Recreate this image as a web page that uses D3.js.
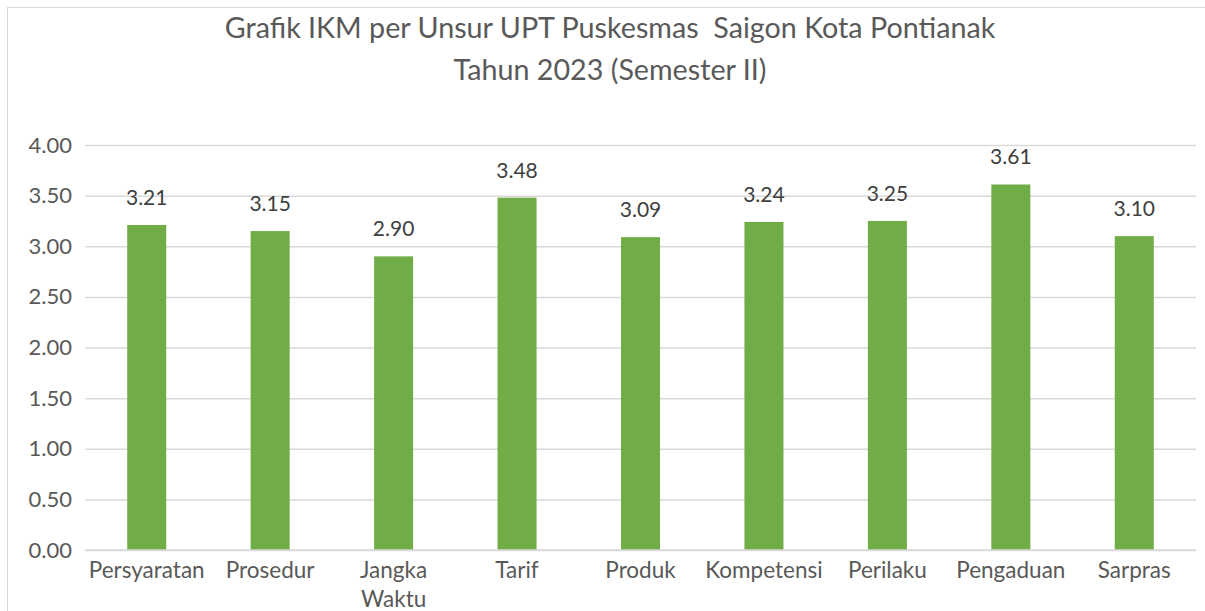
<!DOCTYPE html>
<html>
<head>
<meta charset="utf-8">
<script src="https://cdn.jsdelivr.net/npm/d3@7"></script>
<style>
  body { margin: 0; background: #fff; }
  svg text { font-family: Lato, "Open Sans", sans-serif; }
</style>
</head>
<body>
<svg id="chart" width="1205" height="611"></svg>
<script>
const categories = ["Persyaratan", "Prosedur", "Jangka Waktu", "Tarif", "Produk", "Kompetensi", "Perilaku", "Pengaduan", "Sarpras"];
const values = [3.21, 3.15, 2.90, 3.48, 3.09, 3.24, 3.25, 3.61, 3.10];
const yTicks = [0, 0.5, 1, 1.5, 2, 2.5, 3, 3.5, 4];
const titleLines = ["Grafik IKM per Unsur UPT Puskesmas  Saigon Kota Pontianak", "Tahun 2023 (Semester II)"];

const svg = d3.select("#chart");
const m = { left: 85, right: 1196, top: 145, bottom: 550 };

svg.append("rect").attr("x", 7.5).attr("y", 7.5).attr("width", 1210).attr("height", 620)
  .attr("fill", "#fff").attr("stroke", "#d9d9d9").attr("stroke-width", 1);

const x = d3.scaleBand().domain(categories).range([m.left, m.right]).paddingInner(0.684).paddingOuter(0.342);
const y = d3.scaleLinear().domain([0, 4]).range([m.bottom, m.top]);

// gridlines + y tick labels
const yAxis = d3.axisLeft(y).tickValues(yTicks).tickSize(-(m.right - m.left)).tickPadding(12).tickFormat(d3.format(".2f"));
const gy = svg.append("g").attr("transform", `translate(${m.left},0)`).call(yAxis);
gy.select(".domain").remove();
gy.selectAll(".tick line").attr("stroke", "#d9d9d9").attr("stroke-width", 1.5);
gy.selectAll(".tick text").attr("fill", "#595959").style("font-size", "22px").attr("x", -13);

// bars
svg.append("g").selectAll("rect").data(values).join("rect")
  .attr("x", (d, i) => x(categories[i]))
  .attr("width", x.bandwidth())
  .attr("y", d => y(d))
  .attr("height", d => y(0) - y(d))
  .attr("fill", "#70ad47");

// baseline
svg.append("line").attr("x1", m.left).attr("x2", m.right).attr("y1", y(0)).attr("y2", y(0))
  .attr("stroke", "#d9d9d9").attr("stroke-width", 1.5);

// data labels
svg.append("g").selectAll("text").data(values).join("text")
  .attr("x", (d, i) => x(categories[i]) + x.bandwidth() / 2)
  .attr("y", d => y(d) - 20)
  .attr("text-anchor", "middle")
  .attr("fill", "#404040")
  .style("font-size", "21px")
  .text(d => d3.format(".2f")(d));

// category labels
const xAxis = d3.axisBottom(x).tickSize(0).tickPadding(0);
const gx = svg.append("g").attr("transform", `translate(0,${m.bottom})`).call(xAxis);
gx.select(".domain").remove();
gx.selectAll(".tick text").each(function(d) {
  const t = d3.select(this);
  t.text(null).attr("y", 0).attr("dy", null);
  const words = d === "Jangka Waktu" ? ["Jangka", "Waktu"] : [d];
  words.forEach((w, i) => {
    t.append("tspan").attr("x", 0).attr("y", 28 + i * 29).text(w);
  });
}).attr("fill", "#595959").style("font-size", "22.5px");

// title
svg.append("g").selectAll("text").data(titleLines).join("text")
  .attr("x", 610)
  .attr("y", (d, i) => 38 + i * 42)
  .attr("text-anchor", "middle")
  .attr("fill", "#595959")
  .style("font-size", "28.7px")
  .style("white-space", "pre")
  .text(d => d);
</script>
</body>
</html>
